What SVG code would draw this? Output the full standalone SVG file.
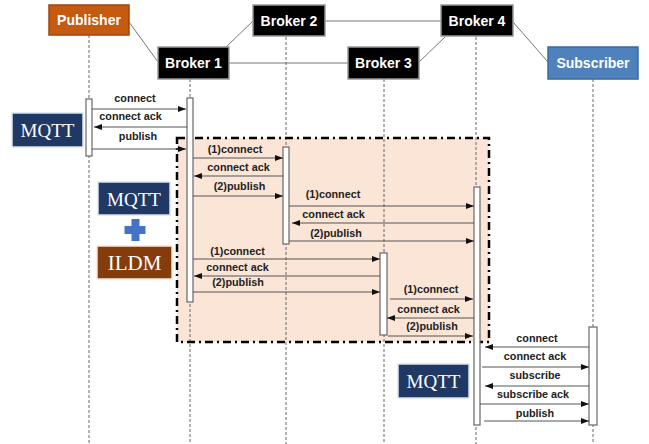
<svg xmlns="http://www.w3.org/2000/svg" width="649" height="444" viewBox="0 0 649 444">
  <defs>
    <marker id="arrow" viewBox="0 0 8 6" refX="8" refY="3" markerWidth="8" markerHeight="6" markerUnits="userSpaceOnUse" orient="auto">
      <path d="M0,0 L8,3 L0,6 z" fill="#111"/>
    </marker>
    <style>
      .node-text { font-family: "Liberation Sans", Arial, sans-serif; font-weight: bold; font-size: 14px; fill: #fff; text-anchor: middle; }
      .broker { fill: #000; stroke: #999; stroke-width: 1.5; }
      .link { stroke: #777; stroke-width: 1; fill: none; }
      .lifeline { stroke: #666; stroke-width: 1; stroke-dasharray: 3 2; fill: none; }
      .bar { fill: #fff; stroke: #666; stroke-width: 1.2; }
      .msg { stroke: #555; stroke-width: 1.2; fill: none; marker-end: url(#arrow); }
      .lbl { font-family: "Liberation Sans", Arial, sans-serif; font-weight: bold; font-size: 10.8px; fill: #222; text-anchor: middle; }
      .tag { font-family: "Liberation Serif", "Times New Roman", serif; font-size: 19px; fill: #fff; text-anchor: middle; }
      .mqtt { fill: #1F3864; stroke: #DAE3F3; stroke-width: 1.5; }
    </style>
  </defs>

  <rect width="649" height="444" fill="#fff"/>

  <!-- shaded region for the ILDM exchange -->
  <rect id="ildm-zone-fill" x="177" y="138" width="312" height="204" fill="#FBE5D6"/>

  <!-- links between nodes -->
  <g id="links">
    <line class="link" x1="129" y1="22" x2="158" y2="62"/>
    <line class="link" x1="226" y1="47" x2="253" y2="21"/>
    <line class="link" x1="325" y1="21" x2="441" y2="21"/>
    <line class="link" x1="229" y1="63" x2="348" y2="63"/>
    <line class="link" x1="419" y1="62" x2="445" y2="37"/>
    <line class="link" x1="513" y1="22" x2="548" y2="62"/>
  </g>

  <!-- lifelines -->
  <g id="lifelines">
    <line class="lifeline" x1="89" y1="35" x2="89" y2="444"/>
    <line class="lifeline" x1="190" y1="79" x2="190" y2="444"/>
    <line class="lifeline" x1="286" y1="37" x2="286" y2="444"/>
    <line class="lifeline" x1="384" y1="79" x2="384" y2="444"/>
    <line class="lifeline" x1="476" y1="37" x2="476" y2="444"/>
    <line class="lifeline" x1="593" y1="79" x2="593" y2="444"/>
  </g>

  <!-- dash-dot frame around the ILDM exchange -->
  <rect id="ildm-zone" x="177" y="138" width="312" height="204" fill="none" stroke="#000" stroke-width="2.5" stroke-dasharray="8 4 2 4"/>

  <!-- nodes -->
  <g id="publisher">
    <rect x="49" y="5" width="80" height="30" fill="#C55A11" stroke="#9E4510" stroke-width="1.5"/>
    <text class="node-text" x="89" y="25">Publisher</text>
  </g>
  <g id="broker2">
    <rect class="broker" x="253" y="5" width="72" height="31"/>
    <text class="node-text" x="289" y="26">Broker 2</text>
  </g>
  <g id="broker4">
    <rect class="broker" x="441" y="5" width="72" height="31"/>
    <text class="node-text" x="477" y="26">Broker 4</text>
  </g>
  <g id="broker1">
    <rect class="broker" x="158" y="47" width="71" height="32"/>
    <text class="node-text" x="193.5" y="68">Broker 1</text>
  </g>
  <g id="broker3">
    <rect class="broker" x="348" y="47" width="71" height="32"/>
    <text class="node-text" x="383.5" y="68">Broker 3</text>
  </g>
  <g id="subscriber">
    <rect x="548" y="47" width="90" height="32" fill="#4F81BD" stroke="#3A6A9F" stroke-width="1.5"/>
    <text class="node-text" x="593" y="68">Subscriber</text>
  </g>

  <!-- activation bars -->
  <g id="activations">
    <rect class="bar" x="86" y="99" width="6" height="57"/>
    <rect class="bar" x="187" y="98" width="6" height="204"/>
    <rect class="bar" x="283" y="147" width="6" height="97"/>
    <rect class="bar" x="474" y="187" width="6" height="238"/>
    <rect class="bar" x="380" y="253" width="7" height="82"/>
    <rect class="bar" x="589" y="327" width="8" height="98"/>
  </g>

  <!-- messages -->
  <g id="messages">
    <line class="msg" x1="92" y1="109" x2="186" y2="109"/>
    <line class="msg" x1="187" y1="127" x2="94" y2="127"/>
    <line class="msg" x1="92" y1="149" x2="186" y2="149"/>

    <line class="msg" x1="193" y1="158" x2="283" y2="158"/>
    <line class="msg" x1="283" y1="176" x2="194" y2="176"/>
    <line class="msg" x1="193" y1="196" x2="283" y2="196"/>

    <line class="msg" x1="289" y1="206" x2="474" y2="206"/>
    <line class="msg" x1="474" y1="223" x2="292" y2="223"/>
    <line class="msg" x1="289" y1="241" x2="474" y2="241"/>

    <line class="msg" x1="193" y1="259" x2="380" y2="259"/>
    <line class="msg" x1="380" y1="276" x2="194" y2="276"/>
    <line class="msg" x1="193" y1="292" x2="380" y2="292"/>

    <line class="msg" x1="390" y1="299" x2="473" y2="299"/>
    <line class="msg" x1="474" y1="318" x2="387" y2="318"/>
    <line class="msg" x1="388" y1="336" x2="473" y2="336"/>

    <line class="msg" x1="589" y1="347" x2="485" y2="347"/>
    <line class="msg" x1="482" y1="367" x2="589" y2="367"/>
    <line class="msg" x1="589" y1="386" x2="485" y2="386"/>
    <line class="msg" x1="480" y1="404" x2="589" y2="404"/>
    <line class="msg" x1="484" y1="421" x2="589" y2="421"/>
  </g>

  <!-- message labels -->
  <g id="labels">
    <text class="lbl" x="135" y="102">connect</text>
    <text class="lbl" x="130.5" y="120">connect ack</text>
    <text class="lbl" x="138" y="140">publish</text>

    <text class="lbl" x="235" y="153">(1)connect</text>
    <text class="lbl" x="238.5" y="171">connect ack</text>
    <text class="lbl" x="239.5" y="190">(2)publish</text>

    <text class="lbl" x="333" y="198">(1)connect</text>
    <text class="lbl" x="333.5" y="218">connect ack</text>
    <text class="lbl" x="336" y="237">(2)publish</text>

    <text class="lbl" x="237.5" y="255">(1)connect</text>
    <text class="lbl" x="237.5" y="271">connect ack</text>
    <text class="lbl" x="238" y="286">(2)publish</text>

    <text class="lbl" x="431" y="293">(1)connect</text>
    <text class="lbl" x="428.5" y="313">connect ack</text>
    <text class="lbl" x="432" y="330">(2)publish</text>

    <text class="lbl" x="537" y="342">connect</text>
    <text class="lbl" x="535" y="359.5">connect ack</text>
    <text class="lbl" x="535" y="378.5">subscribe</text>
    <text class="lbl" x="533" y="398">subscribe ack</text>
    <text class="lbl" x="535" y="417">publish</text>
  </g>

  <!-- protocol tags -->
  <g id="tag-mqtt-top">
    <rect class="mqtt" x="12" y="113" width="71" height="34"/>
    <text class="tag" x="47.5" y="137">MQTT</text>
  </g>
  <g id="tag-mqtt-mid">
    <rect class="mqtt" x="98" y="182" width="72" height="33"/>
    <text class="tag" x="134" y="206">MQTT</text>
  </g>
  <g id="tag-plus">
    <rect x="124.5" y="226" width="21" height="8" fill="#4472C4"/>
    <rect x="131.5" y="219" width="8" height="22" fill="#4472C4"/>
  </g>
  <g id="tag-ildm">
    <rect x="97" y="246" width="75" height="33" fill="#843C0C" stroke="#FBE5D6" stroke-width="1.5"/>
    <text class="tag" x="134.5" y="270" style="font-size:21px">ILDM</text>
  </g>
  <g id="tag-mqtt-bottom">
    <rect class="mqtt" x="398" y="364" width="71" height="34"/>
    <text class="tag" x="433.5" y="388">MQTT</text>
  </g>
</svg>
